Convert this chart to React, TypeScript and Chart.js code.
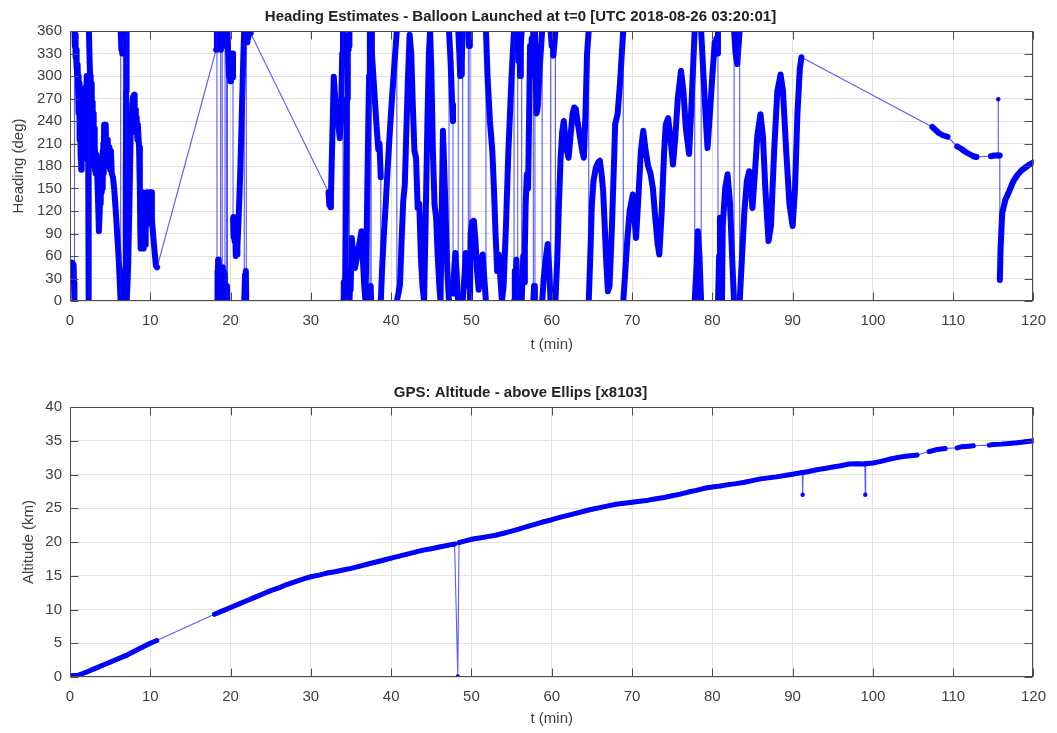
import React, { useEffect, useRef } from "react";
import { Chart, registerables } from "chart.js";

Chart.register(...registerables);

const FONT = "'Liberation Sans', Arial, Helvetica, sans-serif";

const headingTitle = "Heading Estimates - Balloon Launched at t=0 [UTC 2018-08-26 03:20:01]";
const altitudeTitle = "GPS: Altitude - above Ellips [x8103]";
const timeLabel = "t (min)";
const headingLabel = "Heading (deg)";
const altitudeLabel = "Altitude (km)";

// [t (min), heading (deg)], in segments
const headingSeg1: [number, number][] = [
  [0, 52], [0.3, 51], [0.45, 48], [0.5, 25], [0.55, 0], [0.56, 360], [0.6, 340], [0.65, 355], [0.7, 325],
  [0.75, 335], [0.8, 310], [0.85, 322], [0.9, 300], [0.95, 315], [1.0, 285], [1.05, 300], [1.1, 250],
  [1.15, 290], [1.2, 215], [1.25, 265], [1.3, 190], [1.35, 250], [1.4, 175], [1.45, 240], [1.5, 195],
  [1.55, 270], [1.6, 200], [1.65, 280], [1.7, 210], [1.75, 255], [1.8, 190], [1.85, 270], [1.9, 205],
  [1.95, 285], [2.0, 230], [2.05, 300], [2.1, 215], [2.15, 265], [2.2, 200], [2.25, 250], [2.3, 130],
  [2.35, 0], [2.36, 360], [2.42, 330], [2.5, 300], [2.55, 250], [2.6, 300], [2.65, 230], [2.7, 290],
  [2.75, 200], [2.8, 265], [2.85, 190], [2.9, 250], [2.95, 180], [3.0, 230], [3.05, 175], [3.1, 210],
  [3.2, 170], [3.3, 195], [3.45, 150], [3.6, 93], [3.7, 120], [3.75, 160], [3.8, 130], [3.85, 175],
  [3.9, 145], [3.95, 190], [4.0, 150], [4.05, 200], [4.1, 160], [4.15, 210], [4.2, 170], [4.25, 235],
  [4.3, 180], [4.35, 225], [4.4, 190], [4.45, 235], [4.5, 200], [4.55, 215], [4.6, 185], [4.7, 215],
  [4.8, 180], [4.9, 205], [5.0, 175], [5.1, 200], [5.2, 170], [5.35, 165], [5.5, 150], [5.7, 120],
  [5.9, 85], [6.05, 60], [6.2, 25], [6.3, 0], [6.31, 360], [6.4, 335], [6.45, 355], [6.5, 330],
  [6.6, 355], [6.65, 360], [6.66, 0], [6.7, 30], [6.75, 10], [6.8, 40], [6.85, 5], [6.9, 45], [6.95, 160],
  [7.0, 280], [7.05, 360], [7.06, 0], [7.15, 20], [7.25, 50], [7.4, 130], [7.55, 220], [7.65, 250],
  [7.7, 230], [7.75, 262], [7.85, 272], [7.9, 250], [8.0, 275], [8.05, 240], [8.15, 255], [8.2, 225],
  [8.3, 245], [8.4, 215], [8.45, 235], [8.6, 205], [8.7, 150], [8.75, 100], [8.8, 70], [8.85, 120],
  [8.9, 75], [8.95, 140], [9.0, 80], [9.05, 145], [9.1, 70], [9.15, 130], [9.2, 75], [9.25, 140],
  [9.3, 85], [9.35, 130], [9.4, 75], [9.45, 140], [9.5, 100], [9.6, 145], [9.65, 110], [9.7, 140],
  [9.8, 105], [9.9, 145], [10.0, 115], [10.1, 145], [10.2, 110], [10.3, 95], [10.5, 70], [10.7, 47],
  [10.85, 45],
];

const headingSeg2: [number, number][] = [
  [18.2, 335], [18.3, 360], [18.31, 0], [18.35, 40], [18.4, 10], [18.45, 55], [18.5, 15], [18.55, 50],
  [18.6, 5], [18.65, 45], [18.7, 10], [18.75, 0], [18.76, 360], [18.8, 335], [18.85, 355], [18.9, 340],
  [18.95, 360], [18.96, 0], [19.0, 45], [19.05, 10], [19.1, 40], [19.15, 5], [19.2, 35], [19.3, 0],
  [19.31, 360], [19.4, 340], [19.5, 360], [19.51, 0], [19.55, 20], [19.6, 0], [19.61, 360], [19.7, 330],
  [19.8, 300], [19.9, 320], [19.95, 293], [20.05, 325], [20.1, 305], [20.2, 330], [20.3, 298], [20.31, 110],
  [20.35, 85], [20.4, 112], [20.5, 80], [20.55, 110], [20.65, 60], [20.7, 90], [20.8, 62], [20.85, 72],
  [21.0, 110], [21.2, 170], [21.4, 250], [21.6, 330], [21.7, 360], [21.71, 0], [21.8, 35], [21.9, 40],
  [21.95, 0], [21.96, 360], [22.05, 345], [22.1, 360], [22.2, 350], [22.3, 360], [22.5, 357],
];

const headingSeg3: [number, number][] = [
  [32.2, 145], [32.3, 128], [32.35, 140], [32.45, 125], [32.5, 140], [32.7, 230], [32.85, 299], [33.0, 275],
  [33.2, 245], [33.4, 238], [33.6, 217], [33.75, 240], [33.9, 330], [34.0, 360], [34.01, 0], [34.1, 25],
  [34.2, 8], [34.3, 40], [34.4, 150], [34.5, 270], [34.6, 350], [34.65, 335], [34.7, 355], [34.75, 340],
  [34.8, 360], [34.81, 0], [34.9, 30], [34.95, 15], [35.1, 84], [35.3, 58], [35.5, 44], [35.8, 62],
  [36.1, 80], [36.3, 93], [36.45, 60], [36.65, 20], [36.8, 0], [36.95, 90], [37.1, 200], [37.25, 300],
  [37.35, 360], [37.36, 0], [37.45, 20], [37.5, 0], [37.51, 360], [37.6, 330], [37.9, 280], [38.2, 230],
  [38.4, 202], [38.55, 210], [38.7, 165], [38.71, 0], [38.9, 50], [39.1, 90], [39.3, 125], [39.5, 164],
  [39.8, 220], [40.1, 270], [40.4, 315], [40.7, 360], [40.71, 0], [40.9, 10], [41.1, 22], [41.3, 80],
  [41.5, 133], [41.7, 155], [41.9, 230], [42.1, 300], [42.3, 355], [42.5, 330], [42.7, 260], [42.9, 200],
  [43.1, 191], [43.3, 124], [43.5, 130], [43.7, 60], [43.9, 20], [44.1, 0], [44.3, 110], [44.5, 230],
  [44.7, 330], [44.85, 360], [45.0, 310], [45.2, 200], [45.4, 129], [45.6, 111], [45.8, 60], [46.0, 20],
  [46.15, 0], [46.3, 120], [46.45, 227], [46.6, 180], [46.8, 110], [47.0, 40], [47.2, 0], [47.21, 360],
  [47.4, 320], [47.6, 262], [47.7, 240], [47.71, 10], [47.9, 50], [48.0, 64], [48.15, 40], [48.3, 5],
  [48.35, 0], [48.36, 360], [48.5, 329], [48.6, 300], [48.65, 315], [48.7, 302], [48.8, 320], [48.9, 360],
  [48.91, 0], [49.1, 28], [49.3, 64], [49.5, 40], [49.6, 20], [49.61, 360], [49.7, 340], [49.8, 360],
  [49.81, 0], [49.9, 90], [50.1, 106], [50.3, 107], [50.5, 80], [50.7, 40], [50.9, 15], [51.1, 50],
  [51.4, 62], [51.6, 30], [51.8, 0], [51.81, 360], [52.0, 300], [52.3, 240], [52.6, 200], [52.8, 150],
  [53.0, 90], [53.2, 40], [53.4, 62], [53.6, 30], [53.8, 0], [54.0, 20], [54.3, 100], [54.6, 200],
  [55.0, 300], [55.3, 360], [55.31, 0], [55.4, 40], [55.5, 15], [55.6, 55], [55.7, 20], [55.75, 0],
  [55.76, 360], [55.85, 320], [55.95, 350], [56.05, 300], [56.15, 340], [56.25, 360], [56.26, 0],
  [56.35, 30], [56.45, 60], [56.55, 25], [56.65, 70], [56.75, 129], [56.9, 169], [57.05, 150], [57.2, 260],
  [57.3, 340], [57.4, 300], [57.5, 350], [57.6, 310], [57.7, 360], [57.71, 0], [57.8, 20], [57.9, 0],
  [57.91, 360], [58.0, 310], [58.1, 250], [58.25, 258], [58.5, 310], [58.8, 360], [58.81, 0], [59.0, 30],
  [59.3, 60], [59.5, 76], [59.7, 40], [59.85, 0], [59.86, 360], [60.0, 340], [60.1, 355], [60.2, 327],
  [60.35, 345], [60.45, 360], [60.46, 0], [60.7, 60], [60.9, 130], [61.1, 190], [61.3, 225], [61.5, 240],
  [61.7, 215], [61.9, 200], [62.1, 191], [62.3, 215], [62.6, 250], [62.8, 258], [63.0, 256], [63.2, 240],
  [63.5, 220], [63.8, 200], [64.0, 191], [64.2, 250], [64.4, 330], [64.6, 360], [64.61, 0], [64.8, 60],
  [65.0, 130], [65.2, 160], [65.5, 178], [65.8, 185], [66.0, 187], [66.2, 170], [66.4, 147], [66.6, 100],
  [66.8, 50], [67.0, 13], [67.2, 20], [67.5, 100], [67.8, 200], [67.9, 236], [68.2, 249], [68.5, 290],
  [68.9, 360], [68.91, 0], [69.1, 30], [69.4, 80], [69.7, 120], [70.1, 142], [70.3, 110], [70.5, 84],
  [70.8, 140], [71.1, 200], [71.4, 227], [71.7, 200], [72.0, 180], [72.3, 170], [72.6, 150], [72.9, 110],
  [73.2, 75], [73.4, 62], [73.7, 120], [74.0, 200], [74.2, 235], [74.5, 244], [74.8, 215], [75.1, 182],
  [75.4, 220], [75.7, 270], [76.1, 307], [76.4, 280], [76.7, 230], [77.1, 196], [77.4, 260], [77.8, 360],
  [77.81, 0], [78.0, 40], [78.2, 93], [78.4, 60], [78.6, 0], [78.61, 360], [78.9, 300], [79.2, 240],
  [79.4, 204], [79.7, 250], [80.0, 300], [80.3, 345], [80.4, 330], [80.5, 350], [80.6, 330], [80.7, 360],
  [80.71, 0], [80.85, 60], [80.95, 111], [81.1, 60], [81.2, 0], [81.3, 100], [81.6, 150], [81.9, 169],
  [82.2, 130], [82.5, 50], [82.7, 0], [82.71, 360], [82.9, 330], [83.1, 316], [83.3, 345], [83.4, 360],
  [83.41, 0], [83.7, 60], [84.0, 120], [84.3, 160], [84.6, 173], [84.8, 150], [85.0, 124], [85.3, 170],
  [85.6, 220], [86.0, 249], [86.3, 220], [86.6, 150], [87.0, 80], [87.3, 100], [87.7, 200], [88.1, 280],
  [88.5, 302], [88.8, 280], [89.2, 200], [89.6, 130], [90.0, 100], [90.3, 150], [90.6, 250], [90.9, 310],
  [91.1, 325],
];

const headingSeg4: [number, number][] = [
  [107.4, 232], [107.8, 228], [108.2, 224], [108.7, 221], [109.3, 219],
  [110.5, 206], [111, 203], [111.5, 199], [112, 196], [112.5, 193], [112.9, 192],
  [114.7, 193], [115.1, 194], [115.6, 194], [115.61, 269], [115.62, 194], [115.8, 194], [115.81, 28],
  [115.9, 70], [116.1, 117], [116.5, 135], [117, 147], [117.5, 160], [118, 168], [118.5, 174], [119, 178],
  [119.5, 182], [120, 185],
];

// [t (min), altitude (km)]
const altitudeSeg1: [number, number][] = [
  [0, 0.2], [1, 0.25], [2, 0.7], [3, 1.2], [4, 1.7], [5, 2.2], [6, 2.7], [7, 3.2], [8, 3.8], [9, 4.4],
  [10, 5.0], [10.8, 5.4],
];
const altitudeSeg2: [number, number][] = [
  [18, 9.3], [19, 9.8], [20, 10.3], [21, 10.8], [22, 11.3], [23, 11.8], [24, 12.3], [25, 12.8], [26, 13.2],
  [27, 13.7], [28, 14.1], [29, 14.5], [30, 14.85], [31, 15.1], [32, 15.4], [33, 15.6], [34, 15.85],
  [35, 16.1], [36, 16.4], [37, 16.7], [38, 17.0], [39, 17.3], [40, 17.6], [41, 17.9], [42, 18.2],
  [43, 18.5], [44, 18.8], [45, 19.0], [46, 19.25], [47, 19.5], [47.9, 19.7],
  [48.3, 0.1], [48.45, 19.9],
  [49, 20.1], [50, 20.4], [51, 20.6], [52, 20.8], [53, 21.0], [54, 21.3], [55, 21.6], [56, 21.95],
  [57, 22.3], [58, 22.65], [59, 23.0], [60, 23.3], [61, 23.65], [62, 23.95], [63, 24.25], [64, 24.55],
  [65, 24.85], [66, 25.1], [67, 25.35], [68, 25.6], [69, 25.75], [70, 25.9], [71, 26.05], [72, 26.2],
  [73, 26.4], [74, 26.6], [75, 26.85], [76, 27.1], [77, 27.4], [78, 27.65], [79, 27.95], [80, 28.15],
  [81, 28.3], [82, 28.5], [83, 28.65], [84, 28.85], [85, 29.1], [86, 29.35], [87, 29.5], [88, 29.65],
  [89, 29.85], [90, 30.05], [91, 30.25], [91.2, 30.3], [91.25, 27.0], [91.3, 30.3], [92, 30.45],
  [93, 30.7], [94, 30.9], [95, 31.1], [96, 31.3], [97, 31.55], [98, 31.6], [99, 31.55], [99.05, 27.0],
  [99.1, 31.6], [100, 31.7], [101, 31.95], [102, 32.25], [103, 32.5], [104, 32.7], [105, 32.8], [105.5, 32.9],
];
const altitudeSeg3: [number, number][] = [
  [107, 33.4], [108, 33.7], [109, 33.85],
  [110.5, 33.95], [111, 34.1], [112, 34.2], [112.5, 34.25],
  [114.5, 34.35], [115, 34.45], [116, 34.5], [117, 34.6], [118, 34.7], [119, 34.85], [120, 35.0],
];

const headingData = [...headingSeg1, ...headingSeg2, ...headingSeg3, ...headingSeg4];
const altitudeData = [...altitudeSeg1, ...altitudeSeg2, ...altitudeSeg3];

const BLUE = "#0000ff";
const THIN = "rgba(20,20,255,0.7)";
const BOX = "#4d4d4d";
const TEXT = "#404040";

const boxPlugin = {
  id: "matlabBox",
  afterDraw(chart: any) {
    const { ctx, chartArea: a, scales } = chart;
    const L = Math.round(a.left) + 0.5;
    const R = Math.round(a.right) - 0.5;
    const T = Math.round(a.top) + 0.5;
    const B = Math.round(a.bottom) - 0.5;
    const tl = 8;
    ctx.save();
    ctx.strokeStyle = BOX;
    ctx.lineWidth = 1;
    ctx.beginPath();
    scales.x.ticks.forEach((t: any) => {
      const px = Math.round(scales.x.getPixelForValue(t.value)) + 0.5;
      ctx.moveTo(px, B);
      ctx.lineTo(px, B - tl);
      ctx.moveTo(px, T);
      ctx.lineTo(px, T + tl);
    });
    scales.y.ticks.forEach((t: any) => {
      const py = Math.round(scales.y.getPixelForValue(t.value)) + 0.5;
      ctx.moveTo(L, py);
      ctx.lineTo(L + tl, py);
      ctx.moveTo(R, py);
      ctx.lineTo(R - tl, py);
    });
    ctx.stroke();
    ctx.strokeRect(L, T, R - L, B - T);
    ctx.restore();
  },
};

function makeConfig(p: {
  data: [number, number][];
  title: string;
  titlePad: { top: number; bottom: number };
  yLabel: string;
  yLabelPad: number;
  yMax: number;
  yStep: number;
  xAxisHeight: number;
  xTitlePad: number;
  thick: number;
  isThin: (dx: number, dy: number) => boolean;
}) {
  const thin = (c: any) =>
    p.isThin(c.p1.parsed.x - c.p0.parsed.x, Math.abs(c.p1.parsed.y - c.p0.parsed.y));
  return {
    type: "line" as const,
    data: {
      datasets: [
        {
          data: p.data.map(([x, y]) => ({ x, y })),
          borderColor: BLUE,
          backgroundColor: BLUE,
          borderWidth: p.thick,
          borderCapStyle: "round",
          borderJoinStyle: "round",
          pointRadius: 2.2,
          pointHoverRadius: 0,
          pointBorderWidth: 0,
          pointBackgroundColor: BLUE,
          tension: 0,
          clip: 0,
          segment: {
            borderWidth: (c: any) => (thin(c) ? 1.1 : p.thick),
            borderColor: (c: any) => (thin(c) ? THIN : BLUE),
          },
        },
      ],
    },
    options: {
      animation: false,
      responsive: false,
      events: [],
      layout: { padding: { left: 0, right: 16, top: 0, bottom: 0 } },
      plugins: {
        legend: { display: false },
        tooltip: { enabled: false },
        title: {
          display: true,
          text: p.title,
          color: "#222222",
          font: { family: FONT, size: 15, weight: "bold" },
          padding: p.titlePad,
        },
      },
      scales: {
        x: {
          type: "linear",
          min: 0,
          max: 120,
          ticks: {
            stepSize: 10,
            padding: 11,
            color: TEXT,
            font: { family: FONT, size: 15 },
            maxRotation: 0,
            autoSkip: false,
          },
          grid: { color: "#e2e2e2", drawTicks: false, lineWidth: 1 },
          border: { display: false },
          title: {
            display: true,
            text: timeLabel,
            color: TEXT,
            font: { family: FONT, size: 15 },
            padding: { top: 0, bottom: p.xTitlePad },
          },
          afterFit: (s: any) => {
            s.height = p.xAxisHeight;
          },
        },
        y: {
          type: "linear",
          min: 0,
          max: p.yMax,
          ticks: {
            stepSize: p.yStep,
            padding: 8,
            color: TEXT,
            font: { family: FONT, size: 15 },
            autoSkip: false,
          },
          grid: { color: "#e2e2e2", drawTicks: false, lineWidth: 1 },
          border: { display: false },
          title: {
            display: true,
            text: p.yLabel,
            color: TEXT,
            font: { family: FONT, size: 15 },
            padding: { top: p.yLabelPad, bottom: 0 },
          },
          afterFit: (s: any) => {
            s.width = 70;
          },
        },
      },
    },
    plugins: [boxPlugin],
  };
}

function PlotPanel(props: { height: number; config: any }) {
  const ref = useRef<HTMLCanvasElement | null>(null);
  useEffect(() => {
    if (!ref.current) return;
    const chart = new Chart(ref.current, props.config);
    return () => chart.destroy();
  }, []);
  return (
    <canvas
      ref={ref}
      width={1057}
      height={props.height}
      style={{ display: "block", width: 1057, height: props.height }}
    />
  );
}

export default function App() {
  const headingConfig = makeConfig({
    data: headingData,
    title: headingTitle,
    titlePad: { top: 8, bottom: 5 },
    yLabel: headingLabel,
    yLabelPad: 10,
    yMax: 360,
    yStep: 30,
    xAxisHeight: 65,
    xTitlePad: 12,
    thick: 6,
    isThin: (dx, dy) => dx > 1.2 || dy / Math.max(dx, 1e-6) > 5000,
  });
  const altitudeConfig = makeConfig({
    data: altitudeData,
    title: altitudeTitle,
    titlePad: { top: 18, bottom: 5 },
    yLabel: altitudeLabel,
    yLabelPad: 20,
    yMax: 40,
    yStep: 5,
    xAxisHeight: 56,
    xTitlePad: 5,
    thick: 5,
    isThin: (dx, dy) => dx > 1.2 || dy > 1,
  });
  return (
    <div
      style={{
        position: "absolute",
        left: 0,
        top: 0,
        width: 1057,
        height: 733,
        background: "#ffffff",
      }}
    >
      <PlotPanel height={366} config={headingConfig} />
      <PlotPanel height={367} config={altitudeConfig} />
    </div>
  );
}
